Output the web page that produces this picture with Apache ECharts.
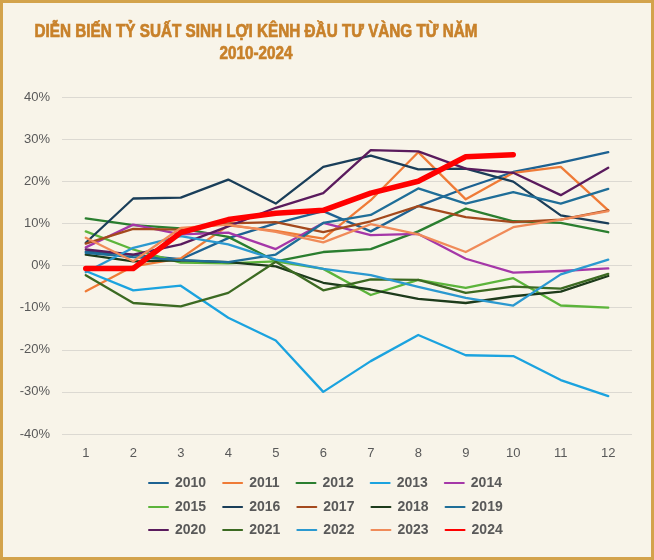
<!DOCTYPE html>
<html>
<head>
<meta charset="utf-8">
<script src="https://cdn.jsdelivr.net/npm/echarts@6/dist/echarts.min.js"></script>
<style>
html,body{margin:0;padding:0;background:#F8F4E9;}
#chart{width:654px;height:560px;}
</style>
</head>
<body>
<div id="chart"></div>
<script>
const months = ['1','2','3','4','5','6','7','8','9','10','11','12'];
const years = ['2010','2011','2012','2013','2014','2015','2016','2017','2018','2019','2020','2021','2022','2023','2024'];
const y2010 = [3.3, 2.5, 1.5, 6.5, 10.0, 12.9, 8.1, 14.1, 18.4, 22.2, 24.4, 26.9];
const y2011 = [-6.1, -0.2, 1.7, 9.5, 8.2, 6.4, 15.5, 26.9, 15.7, 22.0, 23.4, 13.1];
const y2012 = [11.2, 9.6, 8.8, 6.8, 1.0, 3.2, 3.9, 8.1, 13.5, 10.5, 10.1, 7.9];
const y2013 = [-1.3, -5.9, -4.8, -12.4, -17.8, -30.0, -22.7, -16.5, -21.3, -21.5, -27.2, -31.0];
const y2014 = [4.3, 9.7, 7.4, 7.8, 3.9, 10.1, 7.2, 7.5, 1.6, -1.7, -1.3, -0.7];
const y2015 = [8.1, 3.8, 0.7, 0.5, 1.0, -0.8, -7.0, -3.4, -5.3, -3.0, -9.5, -10.0];
const y2016 = [5.4, 15.9, 16.1, 20.4, 14.7, 23.4, 26.1, 22.8, 23.0, 19.9, 11.9, 10.0];
const y2017 = [5.2, 8.7, 8.5, 10.0, 10.3, 7.9, 10.5, 14.1, 11.5, 10.3, 10.9, 13.1];
const y2018 = [2.6, 1.0, 1.2, 0.8, -0.2, -4.1, -5.7, -7.9, -8.9, -7.3, -6.2, -2.5];
const y2019 = [3.0, 2.0, 1.3, 0.8, 2.6, 10.1, 12.0, 18.3, 14.7, 17.4, 14.7, 18.2];
const y2020 = [3.8, 2.6, 5.0, 9.3, 13.7, 17.2, 27.4, 27.1, 23.0, 22.0, 16.7, 23.2];
const y2021 = [-2.3, -8.9, -9.7, -6.5, 0.9, -5.9, -3.3, -3.4, -6.5, -5.0, -5.5, -2.0];
const y2022 = [-1.6, 4.2, 7.0, 5.0, 1.4, -0.8, -2.3, -5.1, -7.7, -9.5, -2.1, 1.4];
const y2023 = [6.6, 1.0, 8.9, 9.7, 8.0, 5.5, 9.8, 7.4, 3.2, 9.1, 10.9, 12.9];
const y2024 = [-0.7, -0.7, 7.8, 10.9, 12.4, 13.1, 17.2, 20.0, 25.8, 26.3];
const yTicks = [-40, -30, -20, -10, 0, 10, 20, 30, 40];
const titleLines = ['DIỄN BIẾN TỶ SUẤT SINH LỢI KÊNH ĐẦU TƯ VÀNG TỪ NĂM', '2010-2024'];

const seriesData = [y2010,y2011,y2012,y2013,y2014,y2015,y2016,y2017,y2018,y2019,y2020,y2021,y2022,y2023,y2024];
const colors = ['#1D6292','#EF7B37','#2A7E2F','#1BA3DF','#A537A8','#5CB43B','#1A3E59','#A4491D','#1D3B1B','#1F6E98','#5A1B5D','#3C6A22','#2B99D0','#F08B59','#FF0000'];

const titleFont = 'bold 18.5px "Liberation Sans", Arial, sans-serif';
const cv = document.createElement('canvas').getContext('2d');
cv.font = titleFont;
const w1 = cv.measureText(titleLines[0]).width;
const titleScale = 443 / w1;

const chart = echarts.init(document.getElementById('chart'));
const series = years.map((y, i) => ({
  name: y,
  type: 'line',
  data: seriesData[i],
  symbol: 'none',
  smooth: false,
  lineStyle: { width: y === '2024' ? 5.5 : 2.3, color: colors[i], cap: 'round', join: 'round' },
  itemStyle: { color: colors[i] },
  emphasis: { disabled: true },
  z: 2 + i
}));

function legendRow(names, top) {
  return {
    data: names.map(n => ({ name: n })),
    top: top,
    left: 143,
    orient: 'horizontal',
    itemWidth: 19,
    itemHeight: 14,
    itemGap: 16,
    itemStyle: { opacity: 0 },
    selectedMode: false,
    textStyle: { color: '#595959', fontSize: 14, fontWeight: 'bold', fontFamily: 'Liberation Sans, Arial, sans-serif', padding: [0, 0, 0, 2] }
  };
}

function titleText(txt, y) {
  return {
    type: 'text',
    x: 256, y: y,
    scaleX: titleScale,
    silent: true,
    style: { text: txt, font: titleFont, fill: '#C8812A', stroke: '#C8812A', lineWidth: 0.7, align: 'center', verticalAlign: 'middle' }
  };
}

chart.setOption({
  backgroundColor: '#F8F4E9',
  animation: false,
  color: colors,
  graphic: [
    titleText(titleLines[0], 32),
    titleText(titleLines[1], 54),
    {
      type: 'rect',
      shape: { x: 1.5, y: 1.5, width: 651, height: 557 },
      style: { fill: 'none', stroke: '#D3A34C', lineWidth: 3 },
      silent: true, z: 100
    }
  ],
  legend: [
    legendRow(years.slice(0, 5), 471),
    legendRow(years.slice(5, 10), 495),
    legendRow(years.slice(10, 15), 518)
  ],
  grid: { left: 62, right: 22, top: 97, bottom: 126 },
  xAxis: {
    type: 'category',
    data: months,
    boundaryGap: true,
    axisLine: { show: false },
    axisTick: { show: false },
    axisLabel: { color: '#595959', fontSize: 13, margin: 13, fontFamily: 'Liberation Sans, Arial, sans-serif' },
    splitLine: { show: false }
  },
  yAxis: {
    type: 'value',
    min: yTicks[0],
    max: yTicks[yTicks.length - 1],
    interval: 10,
    axisLine: { show: false },
    axisTick: { show: false },
    axisLabel: { formatter: '{value}%', color: '#595959', fontSize: 13, margin: 12, fontFamily: 'Liberation Sans, Arial, sans-serif' },
    splitLine: { lineStyle: { color: '#DCD9D2', width: 1 } }
  },
  series: series
});
</script>
</body>
</html>
